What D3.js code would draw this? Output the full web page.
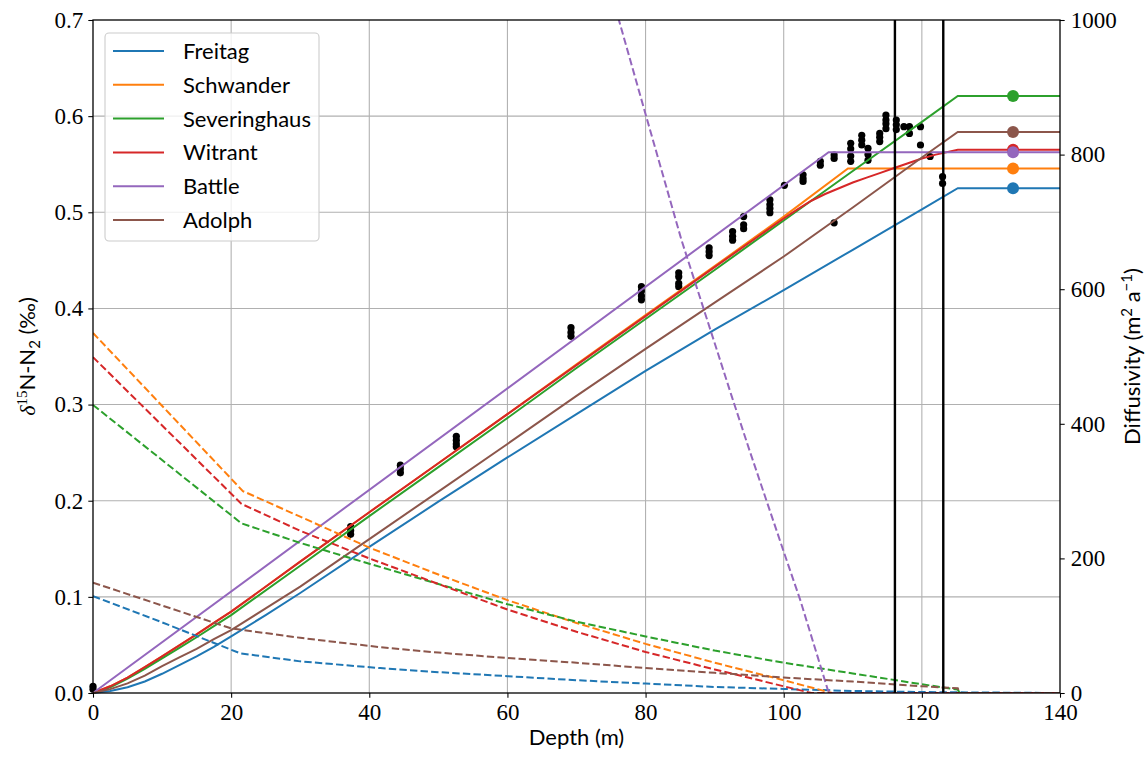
<!DOCTYPE html>
<html>
<head>
	<title>Firn d15N profiles</title>
	<script src="https://d3js.org/d3.v7.min.js"></script>
	<style>
		body { margin: 0; background: white; }
		.tick text { font-family: "Liberation Serif", serif; font-size: 23px; fill: black; }
		.tick line { stroke: black; stroke-width: 1.07; }
		.grid line { stroke: #b0b0b0; stroke-width: 1.07; }
		.lbl { font-family: Lato, "DejaVu Sans", sans-serif; font-size: 22px; fill: black; }
	</style>
</head>
<body>
<svg width="1147" height="759"></svg>

<script type="text/javascript">
var width = 1147, height = 759;
var margin = {left: 93, right: 87, top: 20, bottom: 66};

// tick labels
var depthTicks = [0, 20, 40, 60, 80, 100, 120, 140];
var d15nTicks = [0, 0.1, 0.2, 0.3, 0.4, 0.5, 0.6, 0.7];
var diffTicks = [0, 200, 400, 600, 800, 1000];

var models = ["Freitag", "Schwander", "Severinghaus", "Witrant", "Battle", "Adolph"];
var colors = ["#1f77b4", "#ff7f0e", "#2ca02c", "#d62728", "#9467bd", "#8c564b"];

// modelled d15N profiles [depth, permil]
var freitagD15N = [[0,0],[2.5,0.002],[5,0.006],[7.5,0.012],[10,0.02],[12.5,0.029],[15,0.038],[17.5,0.048],[20,0.059],[25,0.081],[30,0.104],[40,0.152],[50,0.199],[60,0.245],[70,0.29],[80,0.335],[90,0.378],[100,0.419],[110,0.461],[120,0.503],[125.2,0.525],[140,0.525]];
var schwanderD15N = [[0,0],[2.5,0.007],[5,0.016],[7.5,0.027],[10,0.038],[12.5,0.0495],[15,0.061],[17.5,0.073],[20,0.0846],[30,0.1366],[40,0.188],[50,0.239],[60,0.29],[70,0.342],[80,0.393],[90,0.444],[100,0.4955],[109.3,0.5455],[140,0.5455]];
var severinghausD15N = [[0,0],[2.5,0.006],[5,0.015],[7.5,0.025],[10,0.036],[12.5,0.047],[15,0.058],[17.5,0.0695],[20,0.081],[30,0.1324],[40,0.184],[50,0.235],[60,0.286],[70,0.338],[80,0.389],[90,0.44],[100,0.4915],[110,0.543],[120,0.594],[125.2,0.621],[140,0.621]];
var witrantD15N = [[0,0],[2.5,0.007],[5,0.016],[7.5,0.027],[10,0.038],[12.5,0.0495],[15,0.061],[17.5,0.073],[20,0.0846],[30,0.1366],[40,0.188],[50,0.239],[60,0.29],[70,0.341],[80,0.392],[90,0.443],[100,0.4935],[102,0.503],[104,0.512],[106,0.519],[108,0.525],[110,0.531],[112,0.536],[114,0.541],[116,0.546],[118,0.551],[120,0.556],[122,0.56],[125.2,0.565],[140,0.565]];
var battleD15N = [[0,0],[106.5,0.5625],[140,0.5625]];
var adolphD15N = [[0,0],[2.5,0.004],[5,0.01],[7.5,0.018],[10,0.028],[12.5,0.037],[15,0.046],[17.5,0.056],[20,0.0655],[25,0.088],[30,0.1106],[40,0.16],[50,0.2095],[60,0.259],[70,0.309],[80,0.358],[90,0.406],[100,0.454],[110,0.505],[120,0.557],[125.2,0.5835],[140,0.5835]];

// modelled diffusivity profiles [depth, m2/a]
var freitagDiff = [[0,144],[10,105],[21.3,59],[30,47],[41.6,37],[50,31],[60,25],[70,19],[80,14],[90,9],[100,6],[110,3],[120,1.5],[125.2,1],[140,0]];
var schwanderDiff = [[0,535],[21.7,300],[30,262],[40,216],[50,176],[60,138],[70,104],[80,73],[90,45],[100,19],[107,0],[140,0]];
var severinghausDiff = [[0,428],[21.5,252],[30,223],[40,192],[50,162],[60,132],[70,106],[80,84],[90,63],[100,45],[110,29],[120,13],[125.2,5],[125.5,0],[140,0]];
var witrantDiff = [[0,499],[21.5,281],[30,241],[40,200],[50,162],[60,124],[70,91],[80,61],[90,35],[100,10],[104,0],[140,0]];
var battleDiff = [[74,1080],[76,1005],[80,860],[85.2,673],[90,520],[92.5,440],[95,362],[100,210],[102.4,138],[106.4,4],[107,0],[140,0]];
var adolphDiff = [[0,164],[20,96],[30,82],[41.6,68],[50,60],[60,52],[70,45],[80,37],[90,30],[100,23],[110,17],[120,10],[125.2,7],[125.5,0],[140,0]];

// measured d15N
var sampleDepth = [0,0,37.3,37.3,37.3,44.5,44.5,44.5,52.6,52.6,52.6,52.6,69.2,69.2,69.2,
	79.4,79.4,79.4,79.4,84.8,84.8,84.8,84.8,89.2,89.2,89.2,92.6,92.6,92.6,94.2,94.2,94.2,
	98,98,98,98,100.1,102.8,102.8,102.8,105.3,105.3,107.3,107.3,107.3,
	109.7,109.7,109.7,109.7,111.3,111.3,111.3,112.2,112.2,112.2,113.9,113.9,113.9,
	114.8,114.8,114.8,114.8,116.3,116.3,116.3,117.4,118.2,118.2,119.8,119.8,121.2,123,123];
var sampleD15N = [0.007,0.004,0.173,0.169,0.165,0.237,0.233,0.229,0.267,0.263,0.259,0.256,0.38,0.375,0.371,
	0.4226,0.418,0.413,0.409,0.437,0.433,0.426,0.4226,0.463,0.459,0.455,0.48,0.475,0.471,0.4955,0.487,0.483,
	0.513,0.508,0.504,0.4996,0.528,0.539,0.535,0.532,0.553,0.549,0.5596,0.556,0.489,
	0.5717,0.566,0.5585,0.553,0.58,0.575,0.57,0.5665,0.56,0.554,0.582,0.578,0.5735,
	0.601,0.596,0.592,0.587,0.596,0.591,0.586,0.589,0.589,0.582,0.589,0.57,0.558,0.537,0.53];

var lockInDepths = [116.1, 123.1];
var plateauDepth = 133.2;

var profiles = [freitagD15N, schwanderD15N, severinghausD15N, witrantD15N, battleD15N, adolphD15N];
var diffusivities = [freitagDiff, schwanderDiff, severinghausDiff, witrantDiff, battleDiff, adolphDiff];

var svg = d3.select('svg');
var x = d3.scaleLinear().domain([0, 140]).range([margin.left, width - margin.right]);
var y = d3.scaleLinear().domain([0, 0.7]).range([height - margin.bottom, margin.top]);
var yR = d3.scaleLinear().domain([0, 1000]).range([height - margin.bottom, margin.top]);
var x0 = x.range()[0], x1 = x.range()[1], y0 = y.range()[0], y1 = y.range()[1];

svg.append('clipPath').attr('id', 'plot')
	.append('rect').attr('x', x0).attr('y', y1).attr('width', x1 - x0).attr('height', y0 - y1);

// grid
var grid = svg.append('g').attr('class', 'grid');
grid.selectAll('.gx').data(depthTicks.slice(1, -1)).enter().append('line')
	.attr('x1', function(d) { return x(d); }).attr('x2', function(d) { return x(d); })
	.attr('y1', y0).attr('y2', y1);
grid.selectAll('.gy').data(d15nTicks.slice(1, -1)).enter().append('line')
	.attr('y1', function(d) { return y(d); }).attr('y2', function(d) { return y(d); })
	.attr('x1', x0).attr('x2', x1);

// measured points
svg.append('g').selectAll('circle')
	.data(sampleDepth)
	.enter()
	.append('circle')
	.attr('cx', function(d) { return x(d); })
	.attr('cy', function(d, i) { return y(sampleD15N[i]); })
	.attr('r', 3.6)
	.attr('fill', 'black');

var line = d3.line().x(function(d) { return x(d[0]); }).y(function(d) { return y(d[1]); });
var lineR = d3.line().x(function(d) { return x(d[0]); }).y(function(d) { return yR(d[1]); });

svg.append('g').selectAll('path')
	.data(profiles)
	.enter()
	.append('path')
	.attr('d', line)
	.attr('fill', 'none')
	.attr('stroke', function(d, i) { return colors[i]; })
	.attr('stroke-width', 2);

svg.append('g').selectAll('circle')
	.data(profiles)
	.enter()
	.append('circle')
	.attr('cx', x(plateauDepth))
	.attr('cy', function(d) { return y(d[d.length - 1][1]); })
	.attr('r', 6)
	.attr('fill', function(d, i) { return colors[i]; });

svg.append('g').attr('clip-path', 'url(#plot)').selectAll('path')
	.data(diffusivities)
	.enter()
	.append('path')
	.attr('d', lineR)
	.attr('fill', 'none')
	.attr('stroke', function(d, i) { return colors[i]; })
	.attr('stroke-width', 2)
	.attr('stroke-dasharray', '7.4,3.2');

svg.append('g').selectAll('line')
	.data(lockInDepths)
	.enter()
	.append('line')
	.attr('x1', function(d) { return x(d); }).attr('x2', function(d) { return x(d); })
	.attr('y1', y0).attr('y2', y1)
	.attr('stroke', 'black')
	.attr('stroke-width', 2.4);

// axes
var fmt = d3.format('.1f');
var ax = svg.append('g').attr('transform', 'translate(0,' + y0 + ')')
	.call(d3.axisBottom(x).tickValues(depthTicks).tickSize(4.7).tickPadding(6).tickFormat(d3.format('d')));
var ayL = svg.append('g').attr('transform', 'translate(' + x0 + ',0)')
	.call(d3.axisLeft(y).tickValues(d15nTicks).tickSize(4.7).tickPadding(5).tickFormat(fmt));
var ayR = svg.append('g').attr('transform', 'translate(' + x1 + ',0)')
	.call(d3.axisRight(yR).tickValues(diffTicks).tickSize(4.7).tickPadding(6).tickFormat(d3.format('d')));
[ax, ayL, ayR].forEach(function(g) { g.select('.domain').remove(); g.attr('font-family', null).attr('font-size', null); });

svg.append('rect')
	.attr('x', x0).attr('y', y1).attr('width', x1 - x0).attr('height', y0 - y1)
	.attr('fill', 'none').attr('stroke', 'black').attr('stroke-width', 1.3);

// axis labels
svg.append('text').attr('class', 'lbl')
	.attr('x', (x0 + x1) / 2).attr('y', 745)
	.attr('text-anchor', 'middle')
	.text('Depth (m)');

var yl = svg.append('text').attr('class', 'lbl')
	.attr('transform', 'translate(35,' + ((y0 + y1) / 2) + ') rotate(-90)')
	.attr('text-anchor', 'middle');
yl.append('tspan').attr('font-family', '"Liberation Serif", serif').attr('font-style', 'italic').text('δ');
yl.append('tspan').attr('font-family', '"Liberation Serif", serif').attr('font-size', 15).attr('dy', -8).text('15');
yl.append('tspan').attr('dy', 8).text('N-N');
yl.append('tspan').attr('font-size', 15).attr('dy', 5).text('2');
yl.append('tspan').attr('dy', -5).text(' (‰)');

var yr = svg.append('text').attr('class', 'lbl')
	.attr('transform', 'translate(1140,' + ((y0 + y1) / 2) + ') rotate(-90)')
	.attr('text-anchor', 'middle');
yr.append('tspan').text('Diffusivity (m');
yr.append('tspan').attr('font-size', 15).attr('dy', -8).text('2');
yr.append('tspan').attr('dy', 8).text(' a');
yr.append('tspan').attr('font-size', 15).attr('dy', -8).text('−1');
yr.append('tspan').attr('dy', 8).text(')');

// legend
var legend = svg.append('g');
legend.append('rect')
	.attr('x', 105).attr('y', 33).attr('width', 214).attr('height', 208).attr('rx', 4)
	.attr('fill', 'white').attr('fill-opacity', 0.8)
	.attr('stroke', '#cccccc').attr('stroke-width', 1.1);
var items = legend.selectAll('g.item')
	.data(models)
	.enter()
	.append('g')
	.attr('transform', function(d, i) { return 'translate(113,' + (51 + i * 33.8) + ')'; });
items.append('line')
	.attr('x1', 0).attr('x2', 51)
	.attr('stroke', function(d, i) { return colors[i]; })
	.attr('stroke-width', 2);
items.append('text').attr('class', 'lbl')
	.attr('x', 70).attr('y', 8)
	.text(function(d) { return d; });
</script>
</body>
</html>
